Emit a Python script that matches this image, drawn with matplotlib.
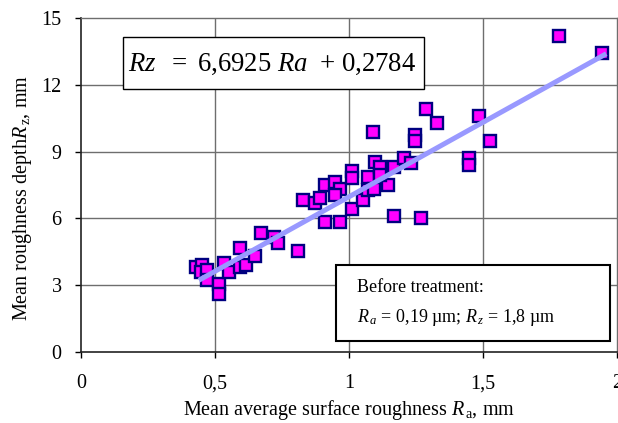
import matplotlib
matplotlib.use("Agg")
import matplotlib.pyplot as plt
from matplotlib.patches import Rectangle

plt.rcParams['font.family'] = ['Liberation Serif', 'DejaVu Serif']
plt.rcParams['mathtext.fontset'] = 'custom'
plt.rcParams['mathtext.rm'] = 'Liberation Serif'
plt.rcParams['mathtext.it'] = 'Liberation Serif:italic'

# Data (Ra, Rz)
ra = [0.43, 0.45, 0.447, 0.47, 0.47, 0.515, 0.515, 0.533, 0.552, 0.593,
      0.593, 0.614, 0.651, 0.67, 0.719, 0.734, 0.811, 0.83, 0.873, 0.891,
      0.912, 0.912, 0.949, 0.965, 0.949, 0.965, 1.011, 1.011, 1.011, 1.052,
      1.07, 1.07, 1.095, 1.096, 1.114, 1.089, 1.144, 1.169, 1.169, 1.206,
      1.23, 1.247, 1.247, 1.268, 1.286, 1.33, 1.447, 1.447, 1.486, 1.525,
      1.784, 1.943, 1.114]
rz = [3.83, 3.91, 3.6, 3.68, 3.23, 3.04, 2.6, 4.01, 3.61, 4.66,
      3.83, 3.91, 4.31, 5.33, 5.18, 4.91, 4.55, 6.83, 6.71, 6.93,
      7.5, 5.83, 7.62, 7.31, 7.05, 5.83, 8.14, 7.8, 6.41, 6.83,
      7.84, 7.28, 7.31, 8.55, 8.33, 9.9, 7.5, 8.33, 6.11, 8.7,
      8.5, 9.75, 9.49, 6.03, 10.9, 10.3, 8.7, 8.4, 10.62, 9.49,
      14.21, 13.42, 7.95]

slope = 6.6925
intercept = 0.2784
fit_range = [0.44, 1.96]

xticks = [0, 0.5, 1, 1.5, 2]
xticklabels = ['0', '0,5', '1', '1,5', '2']
yticks = [0, 3, 6, 9, 12, 15]
yticklabels = ['0', '3', '6', '9', '12', '15']

fig = plt.figure(figsize=(6.18, 4.23), dpi=100)
L, R, B, T = 81/618, 617/618, 1-352/423, 1-18/423
ax = fig.add_axes([L, B, R-L, T-B])
ax.set_xlim(0, 2)
ax.set_ylim(0, 15)

grid_c = '#6e6e6e'
for v in xticks[1:-1]:
    ax.axvline(v, color=grid_c, lw=1.0, zorder=1)
for v in yticks[1:-1]:
    ax.axhline(v, color=grid_c, lw=1.0, zorder=1)

ax.plot(ra, rz, linestyle='none', marker='s', markersize=8.2,
        markerfacecolor='#FF00FF', markeredgecolor='#000080',
        markeredgewidth=1.7, zorder=3)

fx = fit_range
fy = [slope * x + intercept for x in fx]
ax.plot(fx, fy, color='#9999FF', lw=3.6, solid_capstyle='butt', zorder=4)

fs = 14.5
ax.set_xticks(xticks)
ax.set_xticklabels(xticklabels)
ax.set_yticks(yticks)
ax.set_yticklabels(yticklabels)
ax.tick_params(axis='x', direction='out', length=4, width=1, pad=12, labelsize=fs, colors='black')
ax.tick_params(axis='y', direction='out', length=4, width=1, pad=10, labelsize=fs, colors='black')

for s in ['left', 'bottom']:
    ax.spines[s].set_color('#222222')
    ax.spines[s].set_linewidth(1.2)
for s in ['top', 'right']:
    ax.spines[s].set_color(grid_c)
    ax.spines[s].set_linewidth(1.0)

ax.set_xlabel(r'Mean average surface roughness $\mathit{R}_{\,\mathrm{a}}$, mm', fontsize=fs)
ax.xaxis.set_label_coords(0.5, -0.174)
ax.xaxis.label.set_va('center')
ax.set_ylabel(r'Mean roughness depth$\mathit{R}_{\,\mathrm{z}}$, mm', fontsize=fs)
ax.yaxis.set_label_coords(-0.110, 0.46)
ax.yaxis.label.set_va('center')

# Equation box
ax.add_patch(Rectangle((0.0785, 0.787), 0.639-0.0785, 0.943-0.787, transform=ax.transAxes,
                       facecolor='white', edgecolor='black', lw=1.0, zorder=5))
ax.text(0.088, 0.862, r'$\mathit{Rz}\ \ \mathrm{=\ 6{,}6925}\ \mathit{Ra}\ \ \mathrm{+\ 0{,}2784}$',
        transform=ax.transAxes, fontsize=19.3, va='center', ha='left', zorder=6)

# Before treatment box
ax.add_patch(Rectangle((0.4766, 0.033), 0.987-0.4766, 0.260-0.033, transform=ax.transAxes,
                       facecolor='white', edgecolor='black', lw=1.5, zorder=5))
ax.text(0.514, 0.192, 'Before treatment:', transform=ax.transAxes, fontsize=13,
        va='center', ha='left', zorder=6)
ax.text(0.514, 0.102, r'$\mathit{R}_{\,\mathit{a}}$ = 0,19 µm; $\mathit{R}_{\,\mathit{z}}$ = 1,8 µm',
        transform=ax.transAxes, fontsize=13, va='center', ha='left', zorder=6)

fig.savefig('out.png', dpi=100)
